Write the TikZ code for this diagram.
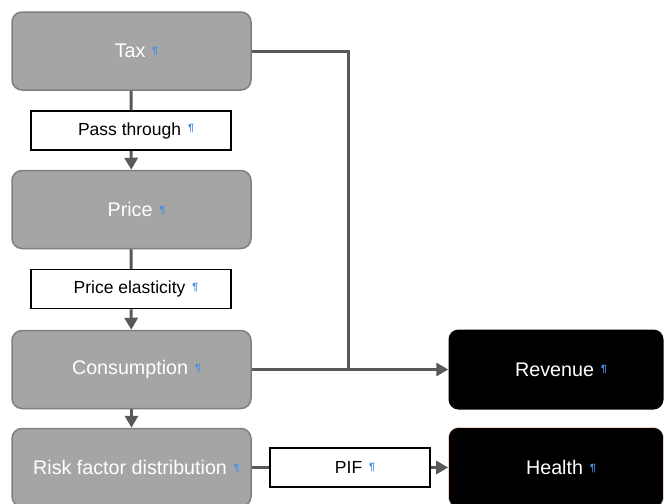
\documentclass[tikz,border=0pt]{standalone}
\usepackage{fontspec}
\setmainfont{Liberation Sans}
\usetikzlibrary{arrows.meta, positioning, calc}
\definecolor{boxgrey}{HTML}{A5A5A5}
\definecolor{boxedge}{HTML}{7F7F7F}
\definecolor{linkgrey}{HTML}{595959}
\definecolor{pilblue}{HTML}{4A90E2}
\definecolor{healthedge}{HTML}{F2D2BE}
\newcommand{\ptxt}[1]{\hspace*{10pt}#1\hspace{7pt}{\color{pilblue}\raisebox{3.5pt}{\fontsize{10.5}{10.5}\selectfont\bfseries ¶}}}
\tikzset{
    stage/.style={draw=boxedge, fill=boxgrey, line width=1.5pt, rounded corners=10pt,
        minimum width=239pt, minimum height=78pt, inner sep=0pt, text=white,
        font=\fontsize{19.7}{22}\selectfont},
    result/.style={fill=black, rounded corners=10pt, minimum width=215pt,
        minimum height=80pt, inner sep=0pt, text=white, font=\fontsize{19.7}{22}\selectfont},
    factor/.style={draw=black, fill=white, line width=1.5pt, minimum width=200pt,
        minimum height=39pt, inner sep=0pt, font=\fontsize{17.5}{20}\selectfont},
    link/.style={draw=linkgrey, line width=3pt},
    linkarrow/.style={link, -{Triangle[length=12pt, width=13pt]}}
}
\begin{document}
\begin{tikzpicture}[x=1pt, y=-1pt]
    \useasboundingbox (0,0) rectangle (665,504);
    \node (tax)    [stage] at (131.5,51)    {\ptxt{Tax}};
    \node (pass)   [factor] at (131,130.5)  {\ptxt{Pass through}};
    \node (price)  [stage] at (131.5,209.5) {\ptxt{Price}};
    \node (elast)  [factor] at (131,289)    {\ptxt{Price elasticity}};
    \node (cons)   [stage] at (131.5,369.5) {\ptxt{Consumption}};
    \node (risk)   [stage] at (131.5,467.5) {\ptxt{Risk factor distribution}};

    \node (rev)    [result] at (556,369.5)  {\ptxt{Revenue}};
    \node (health) [result, draw=healthedge, line width=0.6pt] at (556,467.5) {\ptxt{Health}};
    \node (pif)    [factor, minimum width=160pt] at (350,467.5) {\ptxt{PIF}};

    \coordinate (join) at (348,369.5);

    \draw [link]      (tax)   -- (pass);
    \draw [linkarrow] (pass)  -- (price);
    \draw [link]      (price) -- (elast);
    \draw [linkarrow] (elast) -- (cons);
    \draw [linkarrow] (cons)  -- (risk);
    \draw [link, line join=miter] (tax.east) -| (join);
    \draw [linkarrow] (cons)  -- (rev);
    \draw [link]      (risk)  -- (pif);
    \draw [linkarrow] (pif)   -- (health);
\end{tikzpicture}
\end{document}
